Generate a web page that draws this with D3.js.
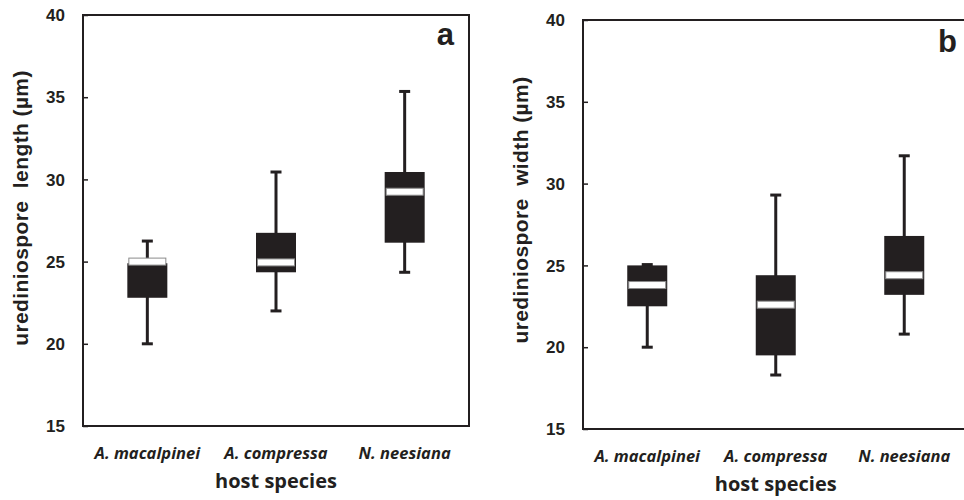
<!DOCTYPE html>
<html>
<head>
<meta charset="utf-8">
<script src="https://cdn.jsdelivr.net/npm/d3@7"></script>
<style>
  html, body { margin: 0; padding: 0; background: #fff; }
  svg { display: block; }
</style>
</head>
<body>
<svg id="chart" width="964" height="500"></svg>
<script>
// ---- data ----
const categories = ["A. macalpinei", "A. compressa", "N. neesiana"];
const yTicks = [15, 20, 25, 30, 35, 40];

// panel a: urediniospore length (µm)
const lengthMin    = [20.0, 22.0, 24.35];
const lengthQ1     = [22.8, 24.35, 26.15];
const lengthMedian = [25.0, 24.95, 29.25];
const lengthQ3     = [24.9, 26.75, 30.45];
const lengthMax    = [26.25, 30.45, 35.35];

// panel b: urediniospore width (µm)
const widthMin    = [20.0, 18.3, 20.8];
const widthQ1     = [22.5, 19.5, 23.2];
const widthMedian = [23.8, 22.6, 24.4];
const widthQ3     = [25.0, 24.4, 26.8];
const widthMax    = [25.05, 29.3, 31.7];

const svg = d3.select("#chart");
const ink = "#231f20";

function drawPanel(p) {
  const x = d3.scalePoint().domain(categories).range([p.left, p.right]).padding(0.5);
  const y = d3.scaleLinear().domain([15, 40]).range([p.bottom, p.top]);
  const g = svg.append("g");

  const rows = categories.map((c, i) => ({
    c, min: p.min[i], q1: p.q1[i], med: p.med[i], q3: p.q3[i], max: p.max[i]
  }));

  // frame
  g.append("rect")
    .attr("x", p.left).attr("y", p.top)
    .attr("width", p.right - p.left).attr("height", p.bottom - p.top)
    .attr("fill", "none").attr("stroke", ink).attr("stroke-width", 2);

  // y axis ticks (inside) and labels
  const axis = d3.axisRight(y).tickValues(yTicks).tickSize(5).tickFormat("");
  const ag = g.append("g").attr("transform", `translate(${p.left},0)`).call(axis);
  ag.select(".domain").remove();
  ag.selectAll("line").attr("stroke", ink).attr("stroke-width", 1.5);

  g.selectAll("text.tick-label").data(yTicks).join("text")
    .attr("class", "tick-label")
    .attr("x", p.left - 18).attr("y", d => y(d))
    .attr("dy", "0.36em")
    .attr("text-anchor", "end")
    .attr("font-family", "Liberation Sans, Arial, sans-serif")
    .attr("font-weight", "bold").attr("font-size", 17)
    .attr("fill", ink)
    .text(d => d);

  const bw = 40, cap = 11;
  // whiskers
  g.selectAll("line.whisker").data(rows).join("line")
    .attr("class", "whisker")
    .attr("x1", d => x(d.c)).attr("x2", d => x(d.c))
    .attr("y1", d => y(d.min)).attr("y2", d => y(d.max))
    .attr("stroke", ink).attr("stroke-width", 3);
  g.selectAll("line.capmax").data(rows).join("line")
    .attr("class", "capmax")
    .attr("x1", d => x(d.c) - cap / 2).attr("x2", d => x(d.c) + cap / 2)
    .attr("y1", d => y(d.max)).attr("y2", d => y(d.max))
    .attr("stroke", ink).attr("stroke-width", 3);
  g.selectAll("line.capmin").data(rows).join("line")
    .attr("class", "capmin")
    .attr("x1", d => x(d.c) - cap / 2).attr("x2", d => x(d.c) + cap / 2)
    .attr("y1", d => y(d.min)).attr("y2", d => y(d.min))
    .attr("stroke", ink).attr("stroke-width", 3);
  // boxes
  g.selectAll("rect.box").data(rows).join("rect")
    .attr("class", "box")
    .attr("x", d => x(d.c) - bw / 2).attr("width", bw)
    .attr("y", d => y(d.q3)).attr("height", d => y(d.q1) - y(d.q3))
    .attr("fill", ink);
  // medians
  g.selectAll("rect.med").data(rows).join("rect")
    .attr("class", "med")
    .attr("x", d => x(d.c) - bw / 2 + 1.5).attr("width", bw - 3)
    .attr("y", d => y(d.med) - 3.5).attr("height", 7)
    .attr("fill", "#fff").attr("stroke", "#8a8a8a").attr("stroke-width", 1);

  // category labels
  g.selectAll("text.cat").data(categories).join("text")
    .attr("class", "cat")
    .attr("x", d => x(d)).attr("y", p.bottom + 33)
    .attr("text-anchor", "middle")
    .attr("font-family", "Open Sans, sans-serif")
    .attr("font-weight", "bold").attr("font-style", "italic")
    .attr("font-size", 16.5).attr("fill", ink)
    .text(d => d);

  // x title
  g.append("text")
    .attr("x", (p.left + p.right) / 2).attr("y", p.bottom + 62)
    .attr("text-anchor", "middle")
    .attr("font-family", "Open Sans, sans-serif")
    .attr("font-weight", "bold").attr("font-size", 20).attr("fill", ink)
    .text("host species");

  // y title
  g.append("text")
    .attr("transform", `translate(${p.yTitleX},${p.yTitleY}) rotate(-90)`)
    .attr("text-anchor", "middle")
    .attr("dy", "0.35em")
    .attr("font-family", "Liberation Sans, Arial, sans-serif")
    .attr("font-weight", "bold").attr("font-size", 21).attr("fill", ink)
    .attr("letter-spacing", 0.4)
    .style("white-space", "pre")
    .text(p.yTitle);

  // panel letter
  g.append("text")
    .attr("x", p.letterX).attr("y", p.letterY)
    .attr("text-anchor", "end")
    .attr("font-family", "Liberation Sans, Arial, sans-serif")
    .attr("font-weight", "bold").attr("font-size", 31).attr("fill", ink)
    .text(p.letter);
}

drawPanel({
  left: 83, right: 469, top: 15, bottom: 426,
  min: lengthMin, q1: lengthQ1, med: lengthMedian, q3: lengthQ3, max: lengthMax,
  yTitle: "urediniospore  length (µm)", yTitleX: 21, yTitleY: 208,
  letter: "a", letterX: 454, letterY: 45
});
drawPanel({
  left: 583, right: 968.5, top: 20, bottom: 429,
  min: widthMin, q1: widthQ1, med: widthMedian, q3: widthQ3, max: widthMax,
  yTitle: "urediniospore  width (µm)", yTitleX: 521, yTitleY: 210,
  letter: "b", letterX: 957, letterY: 52
});
</script>
</body>
</html>
